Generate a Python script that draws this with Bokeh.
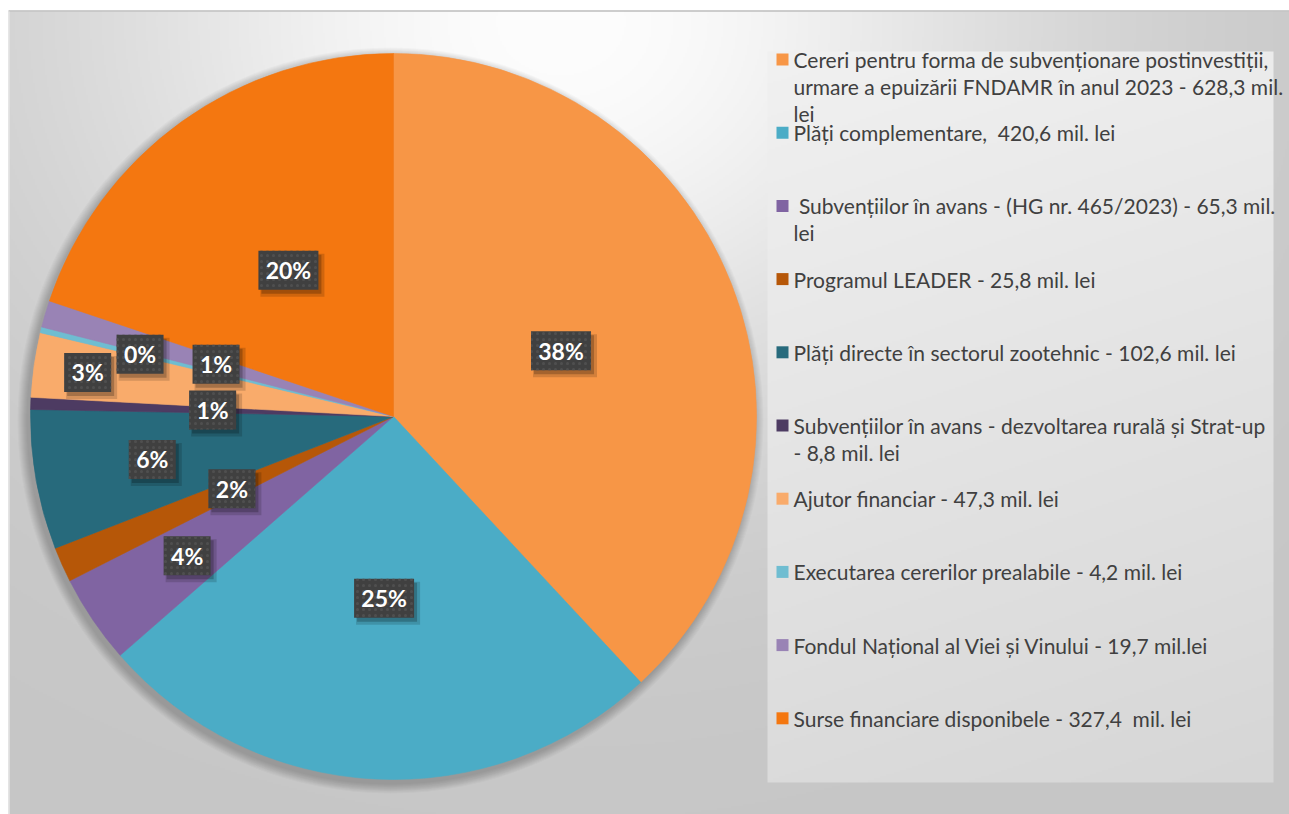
import numpy as np
from bokeh.plotting import figure
from bokeh.models import Range1d, ColumnDataSource
from bokeh.core.properties import value
from bokeh.embed import file_html
from bokeh.resources import INLINE

# ---------------- data ----------------
categories = [
    "Cereri pentru forma de subvenționare postinvestiții, urmare a epuizării FNDAMR în anul 2023 - 628,3 mil. lei",
    "Plăți complementare,  420,6 mil. lei",
    " Subvențiilor în avans - (HG nr. 465/2023) - 65,3 mil. lei",
    "Programul LEADER - 25,8 mil. lei",
    "Plăți directe în sectorul zootehnic - 102,6 mil. lei",
    "Subvențiilor în avans - dezvoltarea rurală și Strat-up - 8,8 mil. lei",
    "Ajutor financiar - 47,3 mil. lei",
    "Executarea cererilor prealabile - 4,2 mil. lei",
    "Fondul Național al Viei și Vinului - 19,7 mil.lei",
    "Surse financiare disponibele - 327,4  mil. lei",
]
legend_lines = [
    ["Cereri pentru forma de subvenționare postinvestiții,",
     "urmare a epuizării FNDAMR în anul 2023 - 628,3 mil.",
     "lei"],
    ["Plăți complementare,\u00a0 420,6 mil. lei"],
    ["\u00a0Subvențiilor în avans - (HG nr. 465/2023) - 65,3 mil.", "lei"],
    ["Programul LEADER - 25,8 mil. lei"],
    ["Plăți directe în sectorul zootehnic - 102,6 mil. lei"],
    ["Subvențiilor în avans - dezvoltarea rurală și Strat-up", "- 8,8 mil. lei"],
    ["Ajutor financiar - 47,3 mil. lei"],
    ["Executarea cererilor prealabile - 4,2 mil. lei"],
    ["Fondul Național al Viei și Vinului - 19,7 mil.lei"],
    ["Surse financiare disponibele - 327,4\u00a0 mil. lei"],
]
values = [628.3, 420.6, 65.3, 25.8, 102.6, 8.8, 47.3, 4.2, 19.7, 327.4]
colors = ["#F79646", "#4BACC6", "#8064A2", "#B65708", "#276A7C",
          "#4D3B62", "#F9AB6B", "#6FBDD1", "#9983B5", "#F47710"]

# label distance from centre (layout, px)
label_dist = [180, 182, 249, 177, 245, 181, 309, 261, 185, 180]

# ---------------- layout ----------------
W, H = 1289, 814


def sy(y):
    return H - y  # screen y -> data y


CX, CY, R = 393, 416, 363

p = figure(width=W, height=H, x_range=Range1d(0, W), y_range=Range1d(0, H),
           output_backend="svg", toolbar_location=None,
           x_axis_type=None, y_axis_type=None, min_border=0,
           outline_line_color=None, background_fill_color="white",
           border_fill_color="white")
p.grid.visible = False

# background gradient
nx, ny = 645, 402
xs = np.linspace(8, 1289, nx)
ys_screen = np.linspace(814, 11, ny)
X, Y = np.meshgrid(xs, ys_screen)
d = np.hypot(X - 560, (Y - 20) * 1.2)
v = 198 + 55 * np.exp(-(d / 480) ** 2)
leg = (X >= 767) & (X <= 1275) & (Y >= 50) & (Y <= 782)
vl = 241 - 22 * (Y - 50) / 732 - 5 * (X - 767) / 508
v = np.where(leg, vl, v)
v = np.clip(v, 0, 255).astype(np.uint8)
img = np.empty((ny, nx), dtype=np.uint32)
view = img.view(dtype=np.uint8).reshape((ny, nx, 4))
view[..., 0] = v
view[..., 1] = v
view[..., 2] = v
view[..., 3] = 255
p.image_rgba(image=[img], x=8, y=0, dw=W - 8, dh=sy(11))

p.segment(x0=[8], x1=[W], y0=[sy(10.5)], y1=[sy(10.5)], line_color="#BDBDBD", line_width=1.5)
p.segment(x0=[8.5], x1=[8.5], y0=[0], y1=[sy(11)], line_color="#E4E4E4", line_width=1.5)

# pie shadow
for k in range(10, 0, -1):
    p.circle(x=[CX - 3], y=[sy(CY + 4)], radius=R + k, fill_color="black",
             fill_alpha=0.022, line_color=None)

# pie
tot = float(sum(values))
cum = np.concatenate([[0.0], np.cumsum(values)])
start = np.pi / 2 - 2 * np.pi * cum[:-1] / tot
end = np.pi / 2 - 2 * np.pi * cum[1:] / tot
src = ColumnDataSource(dict(start=start, end=end, color=colors))
p.wedge(x=CX, y=sy(CY), radius=R, start_angle="start", end_angle="end",
        direction="clock", fill_color="color", line_color="color", line_width=0.6,
        source=src)

# data labels
mid = (start + end) / 2
pct = [f"{round(vv / tot * 100)}%" for vv in values]
lx = CX + np.array(label_dist) * np.cos(mid)
ly = sy(CY) + np.array(label_dist) * np.sin(mid)
bw = [13 * len(t) + 21 for t in pct]
bh = 39
p.rect(x=lx + 4, y=ly - 5, width=[w + 4 for w in bw], height=bh + 4,
       fill_color="black", fill_alpha=0.15, line_color=None)
p.rect(x=lx + 3, y=ly - 4, width=bw, height=bh,
       fill_color="black", fill_alpha=0.22, line_color=None)
p.rect(x=lx, y=ly, width=bw, height=bh, fill_color="#404040", line_color=None,
       hatch_pattern="dot", hatch_color="#4F4F4F", hatch_scale=6, hatch_weight=1)
p.text(x=lx, y=ly, text=pct, text_align="center", text_baseline="middle",
       text_color="white", text_font=value("Lato"), text_font_style="bold",
       text_font_size="23px")

# legend
step = 73.2
first = 59
ey = [first + i * step for i in range(len(values))]
p.rect(x=[782] * len(values), y=[sy(y) for y in ey], width=12, height=12,
       fill_color=colors, line_color=None)
tx, tyy, tt = [], [], []
for i, lines in enumerate(legend_lines):
    for j, line in enumerate(lines):
        tx.append(793)
        tyy.append(sy(ey[i] + j * 27))
        tt.append(line)
p.text(x=tx, y=tyy, text=tt, text_align="left", text_baseline="middle",
       text_color="#404040", text_font=value("Lato"), text_font_size="21px")

open("out.html", "w").write(file_html(p, INLINE))
